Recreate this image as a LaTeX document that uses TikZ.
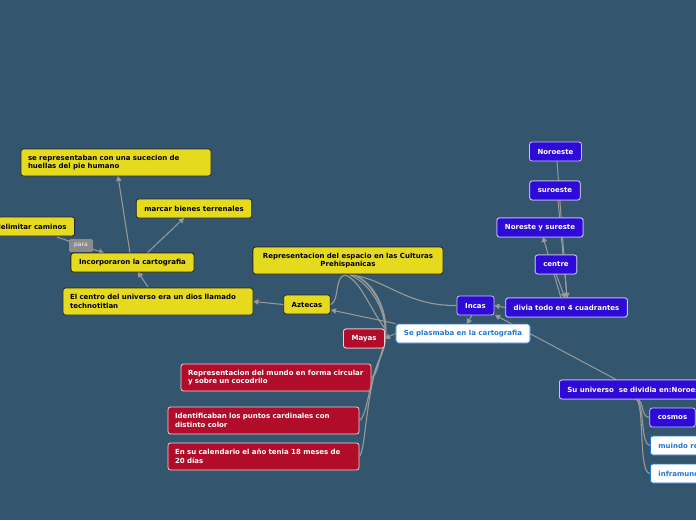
\documentclass[tikz,border=0pt]{standalone}
\usepackage{fontspec}
\setmainfont{DejaVu Sans}
\usetikzlibrary{arrows.meta}
\definecolor{bg}{HTML}{33566E}
\definecolor{yel}{HTML}{E6DA1E}
\definecolor{redb}{HTML}{B10D2B}
\definecolor{pur}{HTML}{2E0AD8}
\definecolor{wbtxt}{HTML}{1E78D8}
\definecolor{lnk}{HTML}{9A9A9A}
\tikzset{
  box/.style={rounded corners=2.5pt, font=\bfseries\fontsize{7}{8.6}\selectfont, inner xsep=8pt, inner ysep=0pt, minimum height=19pt, line width=0.8pt},
  ybox/.style={box, fill=yel, draw=black!85, text=black},
  rbox/.style={box, fill=redb, draw=white!80!redb, text=white},
  pbox/.style={box, fill=pur, draw=white!75!pur, text=white},
  wbox/.style={box, fill=white, draw=wbtxt, text=wbtxt},
  two/.style={minimum height=27pt, align=left, inner xsep=7pt},
  arr/.style={draw=lnk, line width=1pt, -{Triangle[width=5.5pt,length=5pt]}},
  lnkc/.style={draw=lnk, line width=1.1pt},
}
\begin{document}
\begin{tikzpicture}[x=1pt,y=-1pt]
\fill[bg] (0,0) rectangle (696,520);
\useasboundingbox (0,0) rectangle (696,520);
\clip (0,0) rectangle (696,520);

% nodes
\node[ybox, two, align=center, minimum width=190pt] (central) at (348,260.5) {Representacion del espacio en las Culturas\\Prehispanicas};
\node[ybox, minimum width=46pt] (azt) at (307,304.5) {Aztecas};
\node[ybox, two, text width=176pt] (centro) at (158,301.5) {El centro del universo era un dios llamado\\technotitlan};
\node[ybox, minimum width=123pt] (incorp) at (132.5,262.5) {Incorporaron la cartografia};
\node[ybox, two, text width=176pt] (huellas) at (116,162.5) {se representaban con una sucecion de\\huellas del pie humano};
\node[ybox, minimum width=114pt] (marcar) at (194,208.5) {marcar bienes terrenales};
\node[ybox, anchor=east] (delim) at (75,226.5) {delimitar caminos};

\node[rbox, minimum width=40pt] (mayas) at (364,338.5) {Mayas};
\node[rbox, two, text width=176pt] (mundo) at (276,377.5) {\mbox{Representacion del mundo en forma circular}\\y sobre un cocodrilo};
\node[rbox, two, text width=177pt] (ident) at (263.5,420.5) {Identificaban los puntos cardinales con\\distinto color};
\node[rbox, two, text width=177pt] (calend) at (263.5,456.5) {En su calendario el año tenia 18 meses de\\20 días};

\node[wbox, minimum width=132pt] (plasm) at (463,333.5) {Se plasmaba en la cartografia};
\node[pbox, minimum width=37pt] (incas) at (475.5,305.5) {Incas};
\node[pbox, minimum width=119pt] (divia) at (566.5,307.5) {divia todo en 4 cuadrantes};
\node[pbox, minimum width=51pt] (noroeste) at (555.5,151.5) {Noroeste};
\node[pbox, minimum width=50pt] (suroeste) at (555,190.5) {suroeste};
\node[pbox, minimum width=84pt] (noreste) at (540,227.5) {Noreste y sureste};
\node[pbox, minimum width=40pt] (centre) at (556,264.5) {centre};
\node[pbox, anchor=west] (univ) at (559,389.5) {Su universo\ \ se dividia en:Noroeste};
\node[pbox, minimum width=45pt] (cosmos) at (672.5,417.5) {cosmos};
\node[wbox, anchor=west] (muindo) at (650,445.5) {muindo real};
\node[wbox, anchor=west] (infra) at (650,473.5) {inframundo};

% curved links from the central topic
\coordinate (cb1) at (345,275);
\coordinate (cb2) at (350,275);
\coordinate (cb3) at (354,275);
\draw[lnkc] (cb1) .. controls (334,277) and (340,300) .. (azt.east);
\draw[lnkc] (cb2) .. controls (385,278) and (405,306) .. (incas.west);
\draw[lnkc] (cb1) .. controls (360,280) and (368,305) .. (mayas.north east);
\draw[lnkc] (cb2) .. controls (374,285) and (392,320) .. (383,348) .. controls (378,362) and (378,374) .. (mundo.east);
\draw[lnkc] (cb3) .. controls (378,285) and (394,325) .. (381,356) .. controls (368,382) and (368,415) .. (ident.east);
\draw[lnkc] (cb3) .. controls (380,285) and (394,325) .. (381,356) .. controls (366,386) and (366,450) .. (calend.east);

% Su universo subtopics
\coordinate (ub) at (636,399);
\draw[lnkc] (ub) .. controls (645,400) and (640,417) .. (cosmos.west);
\draw[lnkc] (ub) .. controls (645,402) and (640,445) .. (muindo.west);
\draw[lnkc] (ub) .. controls (645,404) and (638,473) .. (infra.west);

% arrows
\draw[arr] (azt.west) -- (centro.east);
\draw[arr] (148,287) -- (138,272);
\draw[arr] (130,253) -- (118,176);
\draw[arr] (147,253) -- (184,218);
\draw[arr] (57,237) -- (104,253);
\node[fill=lnk!90!black, text=white!90!lnk, rounded corners=1.5pt, font=\fontsize{6}{7}\selectfont, minimum width=24pt, minimum height=13pt, inner sep=0pt] (para) at (81,245.5) {para};
\draw[arr] (plasm.north west) -- (331,310);
\draw[arr] (plasm.west) -- (mayas.east);
\draw[arr] (472,315) -- (467,324);
\draw[arr] (divia.west) -- (incas.east);
\draw[arr] (617,380) -- (495,315);
\draw[arr] (557,161) -- (567,298);
\draw[arr] (558,200) -- (567,298);
\draw[arr] (556,274) -- (565,298);
\draw[arr] (561,298) -- (543,237);

% redraw nodes on top of link lines
\node[ybox, two, align=center, minimum width=190pt] at (348,260.5) {Representacion del espacio en las Culturas\\Prehispanicas};
\node[ybox, minimum width=123pt] at (132.5,262.5) {Incorporaron la cartografia};
\node[pbox, minimum width=84pt] at (540,227.5) {Noreste y sureste};
\node[pbox, minimum width=50pt] at (555,190.5) {suroeste};
\node[pbox, minimum width=40pt] at (556,264.5) {centre};
\node[pbox, minimum width=119pt] at (566.5,307.5) {divia todo en 4 cuadrantes};
\node[pbox, anchor=west] at (559,389.5) {Su universo\ \ se dividia en:Noroeste};
\node[wbox, minimum width=132pt] at (463,333.5) {Se plasmaba en la cartografia};
\node[rbox, minimum width=40pt] at (364,338.5) {Mayas};
\end{tikzpicture}
\end{document}
